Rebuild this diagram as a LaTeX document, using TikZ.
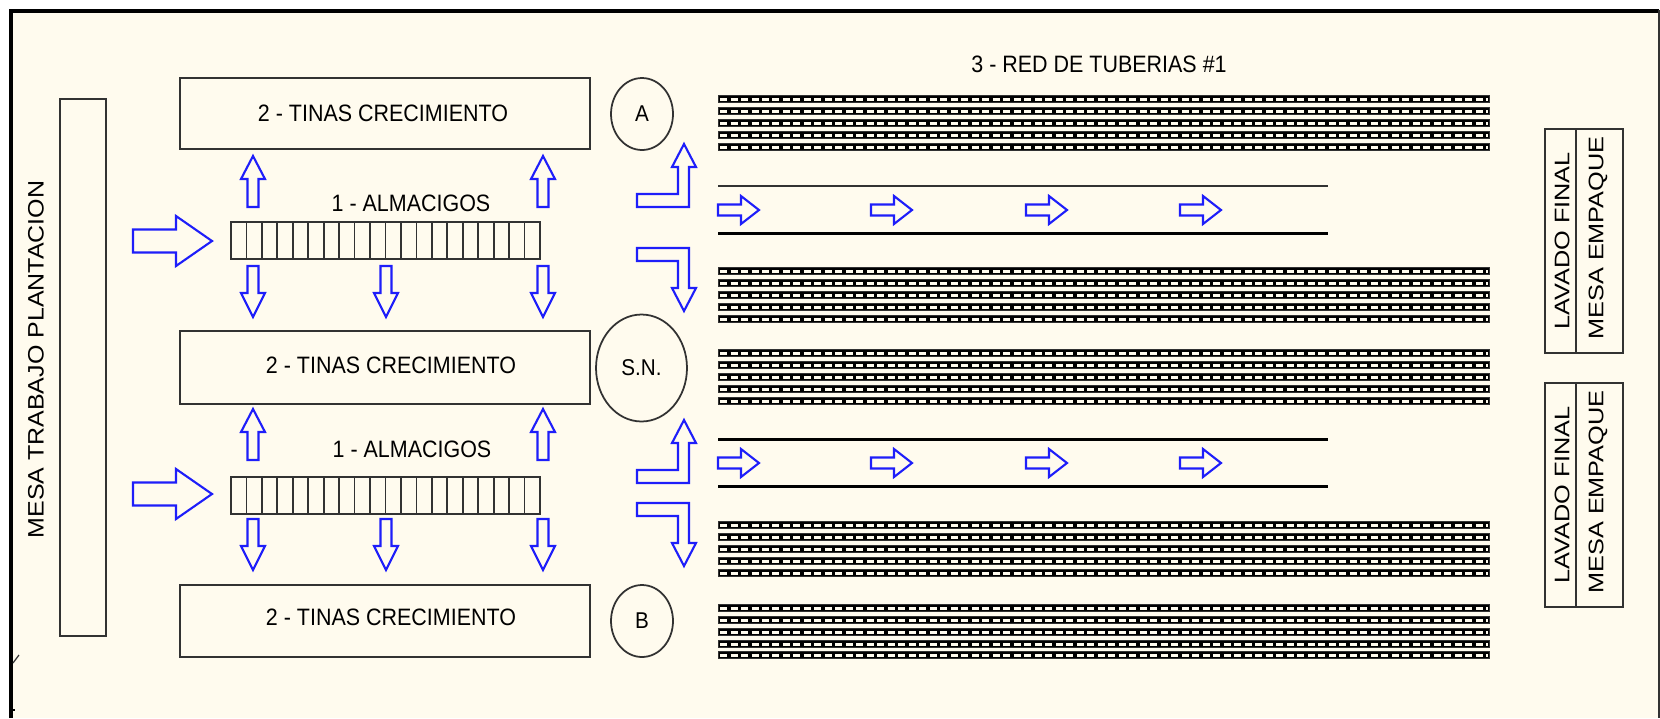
\documentclass[tikz,border=0pt]{standalone}
\usepackage{fontspec}
\setmainfont{Liberation Sans}
\usepackage{xcolor}
\usetikzlibrary{positioning, calc, shapes.geometric}
\newfontfamily\narrowfont[FakeStretch=0.905]{Liberation Sans}
\newfontfamily\widefont[FakeStretch=1.2]{Liberation Sans}
\newfontfamily\midfont[FakeStretch=1.12]{Liberation Sans}
\definecolor{PaperBg}{RGB}{255,251,238}
\definecolor{FlowBlue}{RGB}{30,30,250}
\definecolor{EdgeGrey}{RGB}{50,50,50}
\tikzset{
  flow/.style={draw=FlowBlue,line width=1.2pt,fill=none,line join=miter},
  tina/.style={draw=EdgeGrey,line width=1.1pt,minimum width=8.2cm,inner sep=0pt},
  roundel/.style={draw=EdgeGrey,ellipse,line width=1pt,inner sep=0pt,
               font=\narrowfont\fontsize{13}{14}\selectfont},
  label/.style={inner sep=0pt,font=\narrowfont\fontsize{13.5}{14}\selectfont},
  sidelabel/.style={inner sep=0pt,rotate=90,font=\widefont\fontsize{12}{14}\selectfont},
  pipeout/.style={draw=EdgeGrey,fill=black,line width=.5pt,minimum width=15.42cm,
               minimum height=.13cm,inner sep=0pt},
  pipein/.style={draw=PaperBg,line width=.06cm,dash pattern=on .14cm off .07cm},
  uparr/.pic={\draw[flow] (-5.5,51)--(5.5,51)--(5.5,23)--(12,23)--(0,0)--(-12,23)--(-5.5,23)--cycle;},
  downarr/.pic={\draw[flow] (-5.5,0)--(5.5,0)--(5.5,27)--(12,27)--(0,51)--(-12,27)--(-5.5,27)--cycle;},
  rightbig/.pic={\draw[flow] (0,-11.5)--(43,-11.5)--(43,-25)--(79,0)--(43,25)--(43,11.5)--(0,11.5)--cycle;},
  rightsmall/.pic={\draw[flow] (0,-5.5)--(23,-5.5)--(23,-14)--(41,0)--(23,14)--(23,5.5)--(0,5.5)--cycle;},
  elbowup/.pic={\draw[flow] (0,50)--(41,50)--(41,23)--(35,23)--(47,0)--(59,23)--(52,23)--(52,63)--(0,63)--cycle;},
  elbowdown/.pic={\draw[flow] (0,0)--(52,0)--(52,40)--(59,40)--(47,63)--(35,40)--(41,40)--(41,13)--(0,13)--cycle;}
}
\begin{document}
\begin{tikzpicture}[x=0.02cm,y=-0.02cm]
  \useasboundingbox (0,0) rectangle (1660,718);
  \fill[white] (0,0) rectangle (1660,718);
  \fill[PaperBg] (11,11) rectangle (1659,718);
  \draw[black,line width=.08cm] (11,718)--(11,10.5)--(1659,10.5);
  \draw[EdgeGrey,line width=.04cm] (1659,10)--(1659,718);
  \draw[EdgeGrey,line width=.7pt] (13,663)--(19,655);
  \draw[black,line width=.7pt] (13,710)--(15,710);
  % work table
  \node[draw=EdgeGrey,line width=1.1pt,minimum width=.92cm,minimum height=10.74cm,inner sep=0pt] (mesa) at (83,367.5) {};
  \node[sidelabel,font=\midfont\fontsize{12.7}{14}\selectfont] (mesalabel) at (36,359.5) {MESA TRABAJO PLANTACION};
  % growing tanks
  \node[tina,minimum height=1.42cm] (t1) at (385,113.5) {};
  \node[tina,minimum height=1.46cm] (t2) at (385,367.5) {};
  \node[tina,minimum height=1.44cm] (t3) at (385,621) {};
  \node[label] (t1label) at (383,113) {2 - TINAS CRECIMIENTO};
  \node[label] (t2label) at (391,365) {2 - TINAS CRECIMIENTO};
  \node[label] (t3label) at (391,617) {2 - TINAS CRECIMIENTO};
  \node[roundel,minimum width=1.24cm,minimum height=1.44cm] (ca) at (642,114) {A};
  \node[roundel,minimum width=1.82cm,minimum height=2.14cm] (csn) at (641.5,368) {S.N.};
  \node[roundel,minimum width=1.24cm,minimum height=1.44cm] (cb) at (642,621) {B};
  % seedling trays
  \foreach \y/\n in {222/s1,477/s2}{
    \draw[EdgeGrey,line width=1pt] (231,\y) rectangle (540,\y+37);
    \foreach \i in {1,...,19}
      \draw[EdgeGrey,line width=1pt] (231+\i*15.45,\y)--(231+\i*15.45,\y+37);
  }
  \node[label] (s1label) at (411,203) {1 - ALMACIGOS};
  \node[label] (s2label) at (412,449) {1 - ALMACIGOS};
  % flow arrows
  \foreach \dy in {0,253}{
    \pic at (133,241+\dy) {rightbig};
    \pic at (253,156+\dy) {uparr};
    \pic at (543,156+\dy) {uparr};
    \foreach \x in {253,386,543}
      \pic at (\x,266+\dy) {downarr};
  }
  \pic at (637,144) {elbowup};
  \pic at (637,248) {elbowdown};
  \pic at (637,420) {elbowup};
  \pic at (637,503) {elbowdown};
  % channels
  \coordinate (ch1a) at (718,186);
  \coordinate (ch1b) at (1328,186);
  \coordinate (ch2a) at (718,233.5);
  \coordinate (ch2b) at (1328,233.5);
  \coordinate (ch3a) at (718,439);
  \coordinate (ch3b) at (1328,439);
  \coordinate (ch4a) at (718,486.5);
  \coordinate (ch4b) at (1328,486.5);
  \draw[EdgeGrey,line width=1pt] (ch1a)--(ch1b);
  \draw[black,line width=1.7pt] (ch2a)--(ch2b);
  \draw[black,line width=1.7pt] (ch3a)--(ch3b);
  \draw[black,line width=1.7pt] (ch4a)--(ch4b);
  \foreach \x in {718,871,1026,1180}{
    \pic at (\x,210) {rightsmall};
    \pic at (\x,463) {rightsmall};
  }
  % pipe network
  \foreach \y in {99,111,123,135,147,271,283,295,307,319,353,365,377,389,401,525,537,549,561,573,608,620,632,644,655}{
    \node[pipeout,anchor=west] (p\y) at (718,\y) {};
    \draw[pipein] ([xshift=.04cm]p\y.west)--([xshift=-.04cm]p\y.east);
  }
  \node[label] (redlabel) at (1099,64) {3 - RED DE TUBERIAS \#1};
  % final wash and packing
  \foreach \y/\n in {129/a,383/b}{
    \draw[EdgeGrey,line width=1pt] (1545,\y) rectangle (1623,\y+224);
    \draw[EdgeGrey,line width=1pt] (1576,\y)--(1576,\y+224);
    \node[sidelabel] (lav\n) at (1562,\y+112) {LAVADO FINAL};
    \node[sidelabel] (emp\n) at (1598,\y+109) {MESA EMPAQUE};
  }
\end{tikzpicture}
\end{document}
